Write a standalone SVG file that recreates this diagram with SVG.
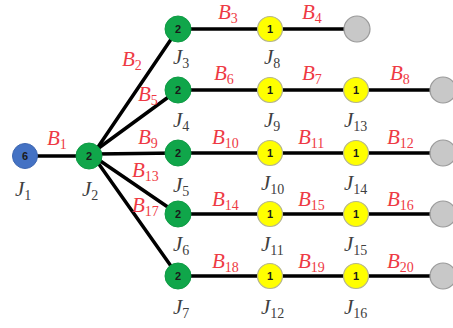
<svg xmlns="http://www.w3.org/2000/svg" width="453" height="328" viewBox="0 0 453 328">
<style>
.e{stroke:#000;stroke-width:3.5;fill:none;stroke-linecap:round}
.g{fill:#10a64a;stroke:#0e9a44;stroke-width:1}
.y{fill:#ffff00;stroke:#b5b58a;stroke-width:1.2}
.bl{fill:#4472c4;stroke:#3d66b0;stroke-width:1}
.gr{fill:#c8c8c8;stroke:#9a9a9a;stroke-width:1.2}
.n{font-family:"Liberation Sans",Arial,sans-serif;font-size:11px;font-weight:bold;fill:#1a1a1a;text-anchor:middle}
.b{font-family:"Liberation Serif","Times New Roman",serif;font-style:italic;font-size:21px;fill:#ee3a44}
.j{font-family:"Liberation Serif","Times New Roman",serif;font-style:italic;font-size:21px;fill:#404040}
.s{font-style:normal;font-size:14px}
</style>
<g id="connectors">
<line class="e" x1="25" y1="156" x2="89" y2="156"/>
<line class="e" x1="96" y1="150" x2="178" y2="29"/>
<line class="e" x1="96" y1="150" x2="178" y2="90"/>
<line class="e" x1="96" y1="154" x2="178" y2="153"/>
<line class="e" x1="96" y1="158" x2="178" y2="214"/>
<line class="e" x1="96" y1="160" x2="178" y2="276"/>
<line class="e" x1="178" y1="29" x2="357" y2="29"/>
<line class="e" x1="178" y1="90" x2="443" y2="90"/>
<line class="e" x1="178" y1="153" x2="443" y2="153"/>
<line class="e" x1="178" y1="214" x2="443" y2="214"/>
<line class="e" x1="178" y1="276" x2="443" y2="276"/>
</g>
<g id="J1"><circle class="bl" cx="25" cy="156" r="12.5"/><text class="n" x="25" y="160">6</text><text class="j" x="15" y="196">J<tspan class="s" dy="4">1</tspan></text></g>
<g id="J2"><circle class="g" cx="89" cy="156" r="13"/><text class="n" x="89" y="160">2</text><text class="j" x="82" y="196">J<tspan class="s" dy="4">2</tspan></text></g>
<g id="J3"><circle class="g" cx="178" cy="29" r="13"/><text class="n" x="178" y="33">2</text><text class="j" x="173" y="64">J<tspan class="s" dy="4">3</tspan></text></g>
<g id="J4"><circle class="g" cx="178" cy="90" r="13"/><text class="n" x="178" y="94">2</text><text class="j" x="173" y="127">J<tspan class="s" dy="4">4</tspan></text></g>
<g id="J5"><circle class="g" cx="178" cy="153" r="13"/><text class="n" x="178" y="157">2</text><text class="j" x="173" y="192">J<tspan class="s" dy="4">5</tspan></text></g>
<g id="J6"><circle class="g" cx="178" cy="214" r="13"/><text class="n" x="178" y="218">2</text><text class="j" x="173" y="251">J<tspan class="s" dy="4">6</tspan></text></g>
<g id="J7"><circle class="g" cx="178" cy="276" r="13"/><text class="n" x="178" y="280">2</text><text class="j" x="173" y="314">J<tspan class="s" dy="4">7</tspan></text></g>
<g id="J8"><circle class="y" cx="270" cy="29" r="12.5"/><text class="n" x="270" y="33">1</text><text class="j" x="264" y="64">J<tspan class="s" dy="4">8</tspan></text></g>
<g id="J9"><circle class="y" cx="270" cy="90" r="12.5"/><text class="n" x="270" y="94">1</text><text class="j" x="264" y="127">J<tspan class="s" dy="4">9</tspan></text></g>
<g id="J10"><circle class="y" cx="270" cy="153" r="12.5"/><text class="n" x="270" y="157">1</text><text class="j" x="261" y="190">J<tspan class="s" dy="4">10</tspan></text></g>
<g id="J11"><circle class="y" cx="270" cy="214" r="12.5"/><text class="n" x="270" y="218">1</text><text class="j" x="261" y="251">J<tspan class="s" dy="4">11</tspan></text></g>
<g id="J12"><circle class="y" cx="270" cy="276" r="12.5"/><text class="n" x="270" y="280">1</text><text class="j" x="261" y="314">J<tspan class="s" dy="4">12</tspan></text></g>
<g id="J13"><circle class="y" cx="356" cy="90" r="12.5"/><text class="n" x="356" y="94">1</text><text class="j" x="344" y="127">J<tspan class="s" dy="4">13</tspan></text></g>
<g id="J14"><circle class="y" cx="356" cy="153" r="12.5"/><text class="n" x="356" y="157">1</text><text class="j" x="344" y="190">J<tspan class="s" dy="4">14</tspan></text></g>
<g id="J15"><circle class="y" cx="356" cy="214" r="12.5"/><text class="n" x="356" y="218">1</text><text class="j" x="344" y="251">J<tspan class="s" dy="4">15</tspan></text></g>
<g id="J16"><circle class="y" cx="356" cy="276" r="12.5"/><text class="n" x="356" y="280">1</text><text class="j" x="344" y="314">J<tspan class="s" dy="4">16</tspan></text></g>
<g id="T1"><circle class="gr" cx="357" cy="29" r="13"/></g>
<g id="T2"><circle class="gr" cx="443" cy="90" r="13"/></g>
<g id="T3"><circle class="gr" cx="443" cy="153" r="13"/></g>
<g id="T4"><circle class="gr" cx="443" cy="214" r="13"/></g>
<g id="T5"><circle class="gr" cx="443" cy="276" r="13"/></g>
<g id="labels">
<text class="b" x="47" y="145">B<tspan class="s" dy="4">1</tspan></text>
<text class="b" x="122" y="66">B<tspan class="s" dy="4">2</tspan></text>
<text class="b" x="218" y="19">B<tspan class="s" dy="4">3</tspan></text>
<text class="b" x="302" y="19">B<tspan class="s" dy="4">4</tspan></text>
<text class="b" x="138" y="101">B<tspan class="s" dy="4">5</tspan></text>
<text class="b" x="214" y="80">B<tspan class="s" dy="4">6</tspan></text>
<text class="b" x="302" y="80">B<tspan class="s" dy="4">7</tspan></text>
<text class="b" x="390" y="80">B<tspan class="s" dy="4">8</tspan></text>
<text class="b" x="138" y="144">B<tspan class="s" dy="4">9</tspan></text>
<text class="b" x="212" y="144">B<tspan class="s" dy="4">10</tspan></text>
<text class="b" x="298" y="144">B<tspan class="s" dy="4">11</tspan></text>
<text class="b" x="387" y="144">B<tspan class="s" dy="4">12</tspan></text>
<text class="b" x="132" y="177">B<tspan class="s" dy="4">13</tspan></text>
<text class="b" x="212" y="206">B<tspan class="s" dy="4">14</tspan></text>
<text class="b" x="298" y="206">B<tspan class="s" dy="4">15</tspan></text>
<text class="b" x="387" y="206">B<tspan class="s" dy="4">16</tspan></text>
<text class="b" x="132" y="212">B<tspan class="s" dy="4">17</tspan></text>
<text class="b" x="212" y="268">B<tspan class="s" dy="4">18</tspan></text>
<text class="b" x="298" y="268">B<tspan class="s" dy="4">19</tspan></text>
<text class="b" x="387" y="268">B<tspan class="s" dy="4">20</tspan></text>
</g>
</svg>
